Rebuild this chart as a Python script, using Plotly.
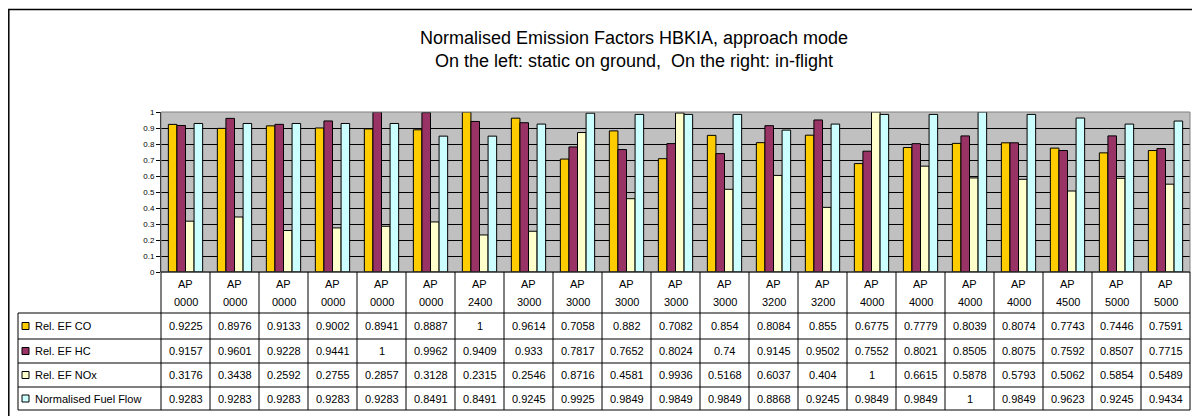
import plotly.graph_objects as go

# chart data
categories = ["AP 0000", "AP 0000", "AP 0000", "AP 0000", "AP 0000", "AP 0000", "AP 2400",
              "AP 3000", "AP 3000", "AP 3000", "AP 3000", "AP 3000", "AP 3200", "AP 3200",
              "AP 4000", "AP 4000", "AP 4000", "AP 4000", "AP 4500", "AP 5000", "AP 5000"]
rel_ef_co = [0.9225, 0.8976, 0.9133, 0.9002, 0.8941, 0.8887, 1, 0.9614, 0.7058, 0.882, 0.7082,
             0.854, 0.8084, 0.855, 0.6775, 0.7779, 0.8039, 0.8074, 0.7743, 0.7446, 0.7591]
rel_ef_hc = [0.9157, 0.9601, 0.9228, 0.9441, 1, 0.9962, 0.9409, 0.933, 0.7817, 0.7652, 0.8024,
             0.74, 0.9145, 0.9502, 0.7552, 0.8021, 0.8505, 0.8075, 0.7592, 0.8507, 0.7715]
rel_ef_nox = [0.3176, 0.3438, 0.2592, 0.2755, 0.2857, 0.3128, 0.2315, 0.2546, 0.8716, 0.4581, 0.9936,
              0.5168, 0.6037, 0.404, 1, 0.6615, 0.5878, 0.5793, 0.5062, 0.5854, 0.5489]
fuel_flow = [0.9283, 0.9283, 0.9283, 0.9283, 0.9283, 0.8491, 0.8491, 0.9245, 0.9925, 0.9849, 0.9849,
             0.9849, 0.8868, 0.9245, 0.9849, 0.9849, 1, 0.9849, 0.9623, 0.9245, 0.9434]
series_names = ["Rel. EF CO", "Rel. EF HC", "Rel. EF NOx", "Normalised Fuel Flow"]
series_colors = ["#FFCC00", "#993366", "#FFFFCC", "#CCFFFF"]
y_ticks = [0, 0.1, 0.2, 0.3, 0.4, 0.5, 0.6, 0.7, 0.8, 0.9, 1]

FONT = "Arial, Liberation Sans, sans-serif"
# the page body has an 8px margin, so the figure is 8px smaller than the window
W, H = 1192, 408
L, R, T, B = 153, 10, 104, 144
plot_w = W - L - R
plot_h = H - T - B
PLOT_LEFT_PAGE, PLOT_BOTTOM_PAGE = 161, 272


def py(px):
    # page pixel row -> paper y
    return (PLOT_BOTTOM_PAGE - px) / plot_h


def px_x(px):
    # page pixel column -> paper x
    return (px - PLOT_LEFT_PAGE) / plot_w


all_series = [rel_ef_co, rel_ef_hc, rel_ef_nox, fuel_flow]
idx = list(range(len(categories)))

fig = go.Figure()
for name, vals, col in zip(series_names, all_series, series_colors):
    fig.add_trace(go.Bar(x=idx, y=vals, name=name, marker=dict(color=col, line=dict(color="#000000", width=1)),
                         showlegend=False))

shapes = []
annotations = []

# chart frame
shapes.append(dict(type="rect", xref="paper", yref="paper", x0=px_x(8.8), x1=1.2, y0=-1.2, y1=py(9.5),
                   line=dict(color="#000000", width=1.5), layer="above"))
# plot area border (gray)
shapes.append(dict(type="rect", xref="paper", yref="paper", x0=0, x1=1, y0=0, y1=1,
                   line=dict(color="#808080", width=1), layer="above"))

# table rows
row_lines = [313, 339, 363, 387, 410]
row_centers = [326, 351, 375, 398.5]
shapes.append(dict(type="line", xref="paper", yref="paper", x0=0, x1=1, y0=0, y1=0,
                   line=dict(color="#000000", width=1)))
for yl in row_lines:
    shapes.append(dict(type="line", xref="paper", yref="paper", x0=px_x(18), x1=1, y0=py(yl), y1=py(yl),
                       line=dict(color="#000000", width=1)))
shapes.append(dict(type="line", xref="paper", yref="paper", x0=px_x(18), x1=px_x(18),
                   y0=py(row_lines[0]), y1=py(row_lines[-1]), line=dict(color="#000000", width=1)))
for xl in [0, 1]:
    shapes.append(dict(type="line", xref="paper", yref="paper", x0=xl, x1=xl, y0=0, y1=py(row_lines[-1]),
                       line=dict(color="#000000", width=1)))
for i in idx[1:]:
    shapes.append(dict(type="line", xref="x", yref="paper", x0=i - 0.5, x1=i - 0.5, y0=0, y1=py(row_lines[-1]),
                       line=dict(color="#000000", width=1)))

# category header
for i, cat in enumerate(categories):
    top, bottom = cat.split(" ")
    annotations.append(dict(xref="x", yref="paper", x=i, y=py(283.5), text=top, showarrow=False,
                            xanchor="center", yanchor="middle", font=dict(family=FONT, size=11, color="#000")))
    annotations.append(dict(xref="x", yref="paper", x=i, y=py(302), text=bottom, showarrow=False,
                            xanchor="center", yanchor="middle", font=dict(family=FONT, size=11, color="#000")))

# table body + legend keys
for r, (name, vals, col) in enumerate(zip(series_names, all_series, series_colors)):
    yc = row_centers[r]
    shapes.append(dict(type="rect", xref="paper", yref="paper", x0=px_x(22), x1=px_x(29),
                       y0=py(yc + 3.5), y1=py(yc - 3.5), fillcolor=col, line=dict(color="#000000", width=1)))
    annotations.append(dict(xref="paper", yref="paper", x=px_x(33), y=py(yc), text=name, showarrow=False,
                            xanchor="left", yanchor="middle", font=dict(family=FONT, size=11, color="#000")))
    for i, v in enumerate(vals):
        annotations.append(dict(xref="x", yref="paper", x=i, y=py(yc), text=f"{v:g}", showarrow=False,
                                xanchor="center", yanchor="middle", font=dict(family=FONT, size=11, color="#000")))

fig.update_layout(
    width=W, height=H,
    margin=dict(l=L, r=R, t=T, b=B),
    paper_bgcolor="#FFFFFF",
    plot_bgcolor="#C0C0C0",
    barmode="group",
    bargap=0.3,
    bargroupgap=0,
    title=dict(text="Normalised Emission Factors HBKIA, approach mode<br>On the left: static on ground, \u00a0On the right: in-flight",
               xref="container", x=(634 - 8) / W, xanchor="center", yref="container", y=1 - 36 / H, yanchor="top",
               font=dict(family=FONT, size=18, color="#000")),
    xaxis=dict(range=[-0.5, len(categories) - 0.5], showticklabels=False, ticks="", showgrid=False,
               zeroline=False, showline=False, fixedrange=True),
    yaxis=dict(range=[0, 1], tickvals=y_ticks, ticktext=[f"{t:g}" for t in y_ticks], ticks="outside", ticklen=4,
               tickcolor="#000", showgrid=True, gridcolor="#000000", gridwidth=1, zeroline=False,
               showline=True, linecolor="#000000", linewidth=1,
               tickfont=dict(family=FONT, size=8, color="#000"), fixedrange=True),
    shapes=shapes,
    annotations=annotations,
)

fig.write_html("out.html")
